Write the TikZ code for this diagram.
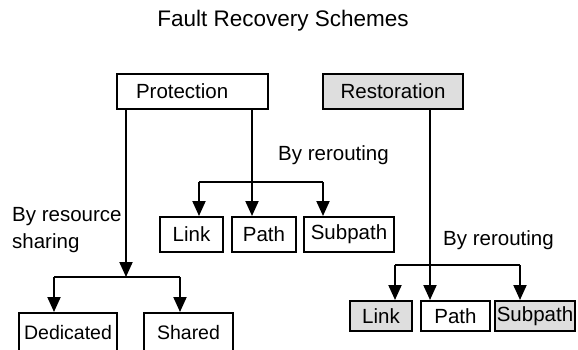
\documentclass[tikz,border=0pt]{standalone}
\usepackage{fontspec}
\setmainfont{Liberation Sans}
\usetikzlibrary{arrows.meta}
\begin{document}
\begin{tikzpicture}[x=1bp,y=-1bp,
  every node/.style={font=\fontsize{20.5bp}{27bp}\selectfont},
  box/.style={draw, line width=2bp, fill=white, inner sep=0pt, minimum height=35bp},
  shaded/.style={box, fill=black!13},
  wire/.style={line width=2bp},
  arr/.style={wire, -{Triangle[length=15bp,width=13bp]}},
  lbl/.style={inner sep=0pt, anchor=base west}]
\clip (0,0) rectangle (578,349);
\fill[white] (0,0) rectangle (578,349);

% title
\node[anchor=base, font=\fontsize{22.5bp}{27bp}\selectfont] (title) at (283,26) {Fault Recovery Schemes};

% top level schemes
\node[box, text width=113bp, align=left, inner xsep=19bp] (prot) at (192.5,91.5) {Protection};
\node[shaded, minimum width=140bp] (rest) at (393,91.5) {Restoration};

% protection by rerouting
\node[box, minimum width=63bp] (link1) at (191.5,234.5) {Link};
\node[box, minimum width=64bp] (path1) at (264,234.5) {Path};
\node[box, minimum width=90bp] (sub1) at (349,234.5) {Subpath};

% protection by resource sharing
\node[box, minimum width=98bp, minimum height=40bp, font=\fontsize{19.5bp}{27bp}\selectfont] (ded) at (68,333) {Dedicated};
\node[box, minimum width=89bp, minimum height=40bp, font=\fontsize{19.5bp}{27bp}\selectfont] (shr) at (188.5,333) {Shared};

% restoration by rerouting
\node[shaded, minimum width=62bp, minimum height=30bp] (link2) at (381,316) {Link};
\node[box, minimum width=69bp, minimum height=30bp] (path2) at (455.5,316) {Path};
\node[shaded, minimum width=80bp, minimum height=30bp] (sub2) at (535,316) {Subpath};

% labels
\node[lbl] (lshare1) at (12,221) {By resource};
\node[lbl] (lshare2) at (12,248) {sharing};
\node[lbl] (lrr1) at (278,160) {By rerouting};
\node[lbl] (lrr2) at (443,245) {By rerouting};

% resource sharing branch
\coordinate (jl) at (126,277);
\coordinate (dl) at (54,277);
\coordinate (dr) at (180,277);
\draw[arr] (prot.south -| jl) -- (jl);
\draw[wire] (dl) -- (dr);
\draw[arr] (dl) -- (dl |- ded.north);
\draw[arr] (dr) -- (dr |- shr.north);

% protection rerouting branch
\coordinate (jm) at (252,182);
\coordinate (ml) at (199,182);
\coordinate (mr) at (323,182);
\draw[arr] (prot.south -| jm) -- (jm |- path1.north);
\draw[wire] (ml) -- (mr);
\draw[arr] (ml) -- (ml |- link1.north);
\draw[arr] (mr) -- (mr |- sub1.north);

% restoration rerouting branch
\coordinate (jr) at (430,265);
\coordinate (rl) at (395,265);
\coordinate (rr) at (520,265);
\draw[arr] (rest.south -| jr) -- (jr |- path2.north);
\draw[wire] (rl) -- (rr);
\draw[arr] (rl) -- (rl |- link2.north);
\draw[arr] (rr) -- (rr |- sub2.north);
\end{tikzpicture}
\end{document}
